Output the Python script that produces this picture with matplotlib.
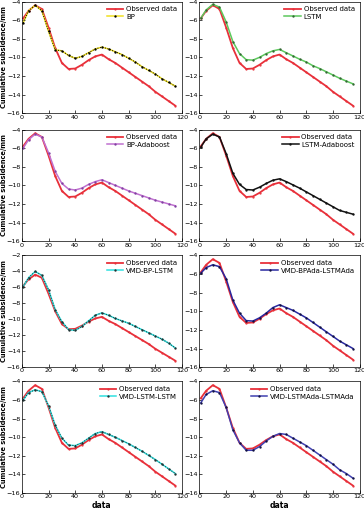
import matplotlib
matplotlib.use('Agg')
import matplotlib.pyplot as plt

# x positions (sample index) and series values
x = [1, 5, 10, 15, 20, 25, 30, 35, 40, 45, 50, 55, 60, 65, 70, 75, 80, 85, 90, 95, 100, 105, 110, 115]

observed = [-5.8, -5.0, -4.4, -4.8, -6.8, -9.0, -10.6, -11.25, -11.2, -10.8, -10.3, -9.9, -9.7,
            -10.2, -10.6, -11.1, -11.6, -12.1, -12.6, -13.1, -13.7, -14.2, -14.7, -15.2]

bp = [-6.3, -5.0, -4.4, -5.0, -7.2, -9.2, -9.3, -9.8, -10.1, -9.9, -9.5, -9.1, -8.9,
      -9.1, -9.4, -9.7, -10.1, -10.5, -11.0, -11.4, -11.8, -12.3, -12.7, -13.1]
lstm = [-5.8, -4.9, -4.3, -4.6, -6.2, -8.3, -9.6, -10.25, -10.3, -10.0, -9.6, -9.3, -9.15,
        -9.5, -9.85, -10.2, -10.5, -10.9, -11.2, -11.55, -11.9, -12.25, -12.55, -12.85]
bp_ada = [-6.0, -5.1, -4.5, -4.8, -6.5, -8.5, -9.8, -10.4, -10.5, -10.3, -9.9, -9.6, -9.4,
          -9.7, -10.0, -10.3, -10.6, -10.85, -11.1, -11.35, -11.6, -11.8, -12.0, -12.2]
lstm_ada = [-5.9, -5.0, -4.5, -4.8, -6.6, -8.7, -9.9, -10.45, -10.5, -10.2, -9.8, -9.45, -9.3,
            -9.6, -9.95, -10.3, -10.7, -11.1, -11.5, -11.9, -12.3, -12.7, -12.9, -13.1]
vmd_bp_lstm = [-5.9, -4.8, -4.0, -4.5, -6.3, -8.8, -10.3, -11.3, -11.4, -10.9, -10.2, -9.5, -9.2,
               -9.5, -9.9, -10.2, -10.5, -10.9, -11.3, -11.7, -12.1, -12.5, -13.0, -13.6]
vmd_bpada_lstmada = [-5.9, -5.3, -5.0, -5.2, -6.5, -8.8, -10.2, -11.0, -11.05, -10.7, -10.2, -9.6, -9.3,
                     -9.6, -9.9, -10.3, -10.7, -11.2, -11.7, -12.2, -12.7, -13.2, -13.6, -14.0]
vmd_lstm_lstm = [-6.0, -5.2, -4.9, -5.1, -6.6, -8.7, -10.1, -10.85, -10.9, -10.6, -10.1, -9.6, -9.4,
                 -9.7, -10.0, -10.35, -10.7, -11.1, -11.5, -11.95, -12.4, -12.9, -13.4, -13.9]
vmd_lstmada_lstmada = [-6.3, -5.4, -5.0, -5.2, -6.8, -9.2, -10.6, -11.4, -11.4, -11.0, -10.4, -9.9, -9.6,
                       -9.7, -10.1, -10.5, -10.9, -11.4, -11.9, -12.4, -12.9, -13.5, -13.9, -14.4]

# (label, values, line colour, marker colour) for each panel, row by row
panels = [
    ('BP', bp, '#f0e020', 'black'),
    ('LSTM', lstm, '#5cc85c', '#336633'),
    ('BP-Adaboost', bp_ada, '#c070d0', '#8040a0'),
    ('LSTM-Adaboost', lstm_ada, '#111111', '#111111'),
    ('VMD-BP-LSTM', vmd_bp_lstm, '#30e0e0', '#203030'),
    ('VMD-BPAda-LSTMAda', vmd_bpada_lstmada, '#2828a0', '#101040'),
    ('VMD-LSTM-LSTM', vmd_lstm_lstm, '#30e0e0', '#203030'),
    ('VMD-LSTMAda-LSTMAda', vmd_lstmada_lstmada, '#4040b0', '#101040'),
]

fig = plt.figure(figsize=(3.64, 5.12), dpi=100)

lefts = [0.060, 0.548]
width = 0.44
bottoms = [0.779, 0.529, 0.283, 0.037]
height = 0.218

for i, (name, vals, col, mcol) in enumerate(panels):
    row, c = divmod(i, 2)
    ax = fig.add_axes([lefts[c], bottoms[row], width, height])
    ax.plot(x, observed, color='#e8303a', linewidth=1.3, marker='.', markersize=1.2,
            label='Observed data')
    ax.plot(x, vals, color=col, linewidth=1.1, marker='.', markersize=1.4,
            markerfacecolor=mcol, markeredgecolor=mcol, label=name)
    if col in ('#f0e020', '#30e0e0'):
        # dark dots along the light line, as in the source figure
        ax.plot(x, vals, color=mcol, linewidth=0.7, linestyle=':')

    ax.set_xlim(0, 120)
    ax.set_xticks(range(0, 121, 20))
    if row == 2 and c == 0:
        ax.set_ylim(-16, -2)
        ax.set_yticks(range(-16, -1, 2))
    else:
        ax.set_ylim(-16, -4)
        ax.set_yticks(range(-16, -3, 2))
    ax.tick_params(direction='in', labelsize=4.6, length=2, width=0.5, pad=1)
    for s in ax.spines.values():
        s.set_linewidth(0.5)
    if c == 0:
        ax.set_ylabel('Cumulative subsidence/mm', fontsize=4.8, fontweight='bold', labelpad=0)
    if row == 3:
        ax.set_xlabel('data', fontsize=5.5, fontweight='bold', labelpad=1)
    ax.legend(loc='upper right', fontsize=5, frameon=False, handlelength=2.4,
              borderaxespad=0.3, labelspacing=0.2, handletextpad=0.4)

fig.savefig('out.png', dpi=100)
